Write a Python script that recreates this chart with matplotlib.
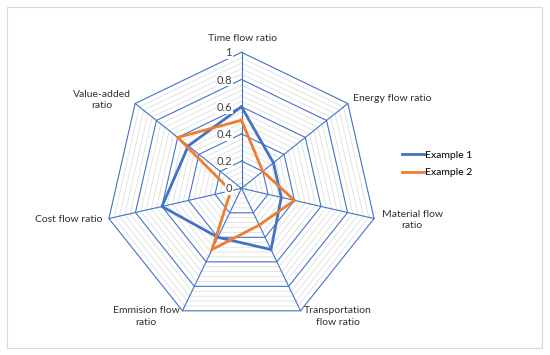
import numpy as np
import matplotlib.pyplot as plt
from matplotlib.patches import Rectangle

# Radar chart data
categories = ['Time flow ratio', 'Energy flow ratio', 'Material flow\nratio',
              'Transportation\nflow ratio', 'Emmision flow\nratio',
              'Cost flow ratio', 'Value-added\nratio']
example1 = [0.6, 0.3, 0.3, 0.5, 0.4, 0.6, 0.5]
example2 = [0.5, 0.2, 0.4, 0.3, 0.5, 0.08, 0.6]
ticks = [0, 0.2, 0.4, 0.6, 0.8, 1.0]
tick_labels = ['0', '0.2', '0.4', '0.6', '0.8', '1']

blue = '#4472C4'
orange = '#ED7D31'

n = len(categories)
ang = np.arange(n) * 2 * np.pi / n  # clockwise from the top


def to_xy(vals):
    vals = np.asarray(vals, dtype=float)
    x = vals * np.sin(ang)
    y = vals * np.cos(ang)
    return np.append(x, x[0]), np.append(y, y[0])


plt.rcParams['font.family'] = ['Lato', 'DejaVu Sans']

fig = plt.figure(figsize=(5.5, 3.55), dpi=100)
ax = fig.add_axes([0, 0, 1, 1])
cx, cy, R = 241.5, 188.3, 136.0
ax.set_xlim(-cx / R, (550 - cx) / R)
ax.set_ylim(-(355 - cy) / R, cy / R)
ax.axis('off')

# minor rings (every 0.04)
for k in range(1, 25):
    if k % 5 == 0:
        continue
    x, y = to_xy(np.full(n, k * 0.04))
    ax.plot(x, y, color='#D9D9D9', lw=0.5, zorder=1)

# major rings
for t in ticks[1:]:
    x, y = to_xy(np.full(n, t))
    ax.plot(x, y, color=blue, lw=0.8, zorder=2)

# spokes
for a in ang:
    ax.plot([0, np.sin(a)], [0, np.cos(a)], color=blue, lw=0.8, zorder=2)

# series
x1, y1 = to_xy(example1)
x2, y2 = to_xy(example2)
ax.plot(x1, y1, color=blue, lw=2.0, label='Example 1', zorder=3,
        solid_joinstyle='miter')
ax.plot(x2, y2, color=orange, lw=2.0, label='Example 2', zorder=4,
        solid_joinstyle='miter')

# radial tick labels
for t, lab in zip(ticks, tick_labels):
    ax.text(-0.07, t - 0.005, lab, ha='right', va='center', fontsize=8,
            color='#404040', zorder=5,
            bbox=dict(facecolor='white', edgecolor='none', pad=0.5))

# category labels
lab_pos = [(0.009, 1.098, 'center'), (0.82, 0.66, 'left'),
           (1.254, -0.235, 'center'), (0.71, -0.944, 'center'),
           (-0.70, -0.944, 'center'), (-1.02, -0.233, 'right'),
           (-1.029, 0.651, 'center')]
for cat, (lx, ly, ha) in zip(categories, lab_pos):
    ax.text(lx, ly, cat, ha=ha, va='center', fontsize=7.5, color='#303030',
            multialignment='center', linespacing=1.35)

ax.legend(loc='center left', bbox_to_anchor=(402 / 550, 1 - 164 / 355),
          bbox_transform=fig.transFigure, frameon=False, fontsize=7.5,
          handlelength=2.1, handletextpad=0.1, borderpad=0,
          borderaxespad=0, labelspacing=0.75)

fig.add_artist(Rectangle((7 / 550, 7 / 355), 535 / 550, 341 / 355,
                         transform=fig.transFigure, fill=False,
                         edgecolor='#D9D9D9', lw=0.8))

fig.savefig('out.png', dpi=100)
